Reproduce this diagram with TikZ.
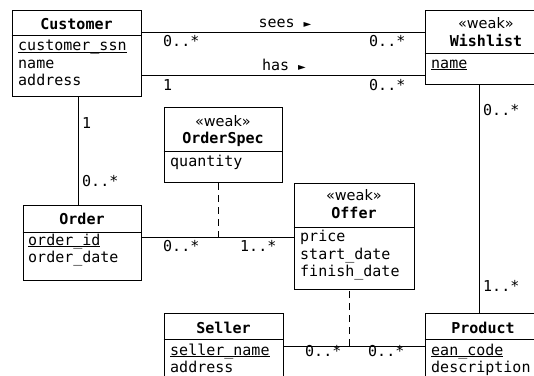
\documentclass[tikz,border=0pt]{standalone}
\usepackage{fontspec}
\setmainfont{DejaVu Sans Mono}
\newfontfamily\propfont{DejaVu Sans}
% primary-key attribute: underline close to the baseline
\newcommand\attrkey[1]{\setbox0\hbox{#1}\rlap{\rule[-2.3pt]{\wd0}{0.9pt}}\box0}
% small reading-direction pointer after an association name
\newcommand\readdir{{\fontsize{10}{10}\propfont ►}}
\tikzset{
  umlbox/.style={draw, line width=1pt, inner sep=0pt, fill=white},
  sepline/.style={line width=1pt},
  attr/.style={anchor=base west, inner sep=0pt, font=\fontsize{15}{17}\selectfont},
  title/.style={anchor=base, inner sep=0pt, font=\fontsize{15}{17}\selectfont\bfseries},
  stereo/.style={anchor=base, inner sep=0pt, font=\fontsize{14.5}{17}\propfont},
  mult/.style={anchor=base west, inner sep=0pt, font=\fontsize{15}{17}\selectfont},
  rolename/.style={anchor=base, inner sep=0pt, font=\fontsize{15}{17}\selectfont},
  assoc/.style={line width=1pt},
  depline/.style={line width=1pt, dash pattern=on 7pt off 5pt}
}
\begin{document}
\begin{tikzpicture}[x=1pt,y=-1pt]
\useasboundingbox (0,0) rectangle (534,375);
\clip (0,0) rectangle (534,375);
\fill[white] (0,0) rectangle (534,375);

% ---------- class boxes ----------
\node[umlbox, minimum width=129pt, minimum height=86pt] (customer) at (76.5,53) {};
\node[umlbox, minimum width=122pt, minimum height=74pt] (wishlist) at (486,47) {};
\node[umlbox, minimum width=118pt, minimum height=75pt] (orderspec) at (223,144.5) {};
\node[umlbox, minimum width=118pt, minimum height=75pt] (order) at (82,242.5) {};
\node[umlbox, minimum width=120pt, minimum height=106pt] (offer) at (354,236) {};
\node[umlbox, minimum width=119pt, minimum height=79pt] (seller) at (223.5,352.5) {};
\node[umlbox, minimum width=116pt, minimum height=79pt] (product) at (483,352.5) {};

% compartment separators
\draw[sepline] (customer.west |- 0,35) -- (customer.east |- 0,35);
\draw[sepline] (wishlist.west |- 0,53) -- (wishlist.east |- 0,53);
\draw[sepline] (orderspec.west |- 0,151) -- (orderspec.east |- 0,151);
\draw[sepline] (order.west |- 0,232) -- (order.east |- 0,232);
\draw[sepline] (offer.west |- 0,227) -- (offer.east |- 0,227);
\draw[sepline] (seller.west |- 0,339) -- (seller.east |- 0,339);
\draw[sepline] (product.west |- 0,339) -- (product.east |- 0,339);

% ---------- class texts ----------
\node[title] (t-customer) at (76.5,29) {Customer};
\node[attr] (a-cssn) at (18,50.5) {\attrkey{customer\_ssn}};
\node[attr] (a-cname) at (18,68) {name};
\node[attr] (a-caddr) at (18,85.5) {address};

\node[stereo] (s-wishlist) at (486,28) {«weak»};
\node[title] (t-wishlist) at (486,46) {Wishlist};
\node[attr] (a-wname) at (431,68) {\attrkey{name}};

\node[stereo] (s-orderspec) at (223,126) {«weak»};
\node[title] (t-orderspec) at (223,143.5) {OrderSpec};
\node[attr] (a-qty) at (170,166) {quantity};

\node[title] (t-order) at (82,224) {Order};
\node[attr] (a-oid) at (28,245) {\attrkey{order\_id}};
\node[attr] (a-odate) at (28,262.5) {order\_date};

\node[stereo] (s-offer) at (354,200.5) {«weak»};
\node[title] (t-offer) at (354,218) {Offer};
\node[attr] (a-price) at (300,241) {price};
\node[attr] (a-start) at (300,259) {start\_date};
\node[attr] (a-finish) at (300,276.5) {finish\_date};

\node[title] (t-seller) at (223.5,333) {Seller};
\node[attr] (a-sname) at (170,355) {\attrkey{seller\_name}};
\node[attr] (a-saddr) at (170,372.5) {address};

\node[title] (t-product) at (483,333) {Product};
\node[attr] (a-ean) at (431,355) {\attrkey{ean\_code}};
\node[attr] (a-descr) at (431,372.5) {description};

% ---------- associations ----------
\draw[assoc] (customer.east |- 0,32) -- (wishlist.west |- 0,32);
\draw[assoc] (customer.east |- 0,75) -- (wishlist.west |- 0,75);
\draw[assoc] (customer.south -| 78,0) -- (order.north -| 78,0);
\draw[assoc] (order.east |- 0,237.5) -- (offer.west |- 0,237.5);
\draw[assoc] (wishlist.south -| 479,0) -- (product.north -| 479,0);
\draw[assoc] (seller.east |- 0,346) -- (product.west |- 0,346);

% association classes hang on their associations
\coordinate (spec-link) at (218,237.5);
\coordinate (offer-link) at (349,346);
\draw[depline] (spec-link) -- (orderspec.south -| spec-link);
\draw[depline] (offer-link) -- (offer.south -| offer-link);

% ---------- association names and multiplicities ----------
\node[rolename] (n-sees) at (285,27) {sees \readdir};
\node[rolename] (n-has) at (284,70) {has \readdir};

\node[mult] (m1) at (163,46) {0..*};
\node[mult] (m2) at (369,46) {0..*};
\node[mult] (m3) at (163,90) {1};
\node[mult] (m4) at (369,90) {0..*};

\node[mult] (m5) at (82,128) {1};
\node[mult] (m6) at (82,186) {0..*};

\node[mult] (m7) at (163,251.5) {0..*};
\node[mult] (m8) at (240,251.5) {1..*};

\node[mult] (m9) at (483,115) {0..*};
\node[mult] (m10) at (483,291) {1..*};

\node[mult] (m11) at (305,356) {0..*};
\node[mult] (m12) at (368,356) {0..*};
\end{tikzpicture}
\end{document}
